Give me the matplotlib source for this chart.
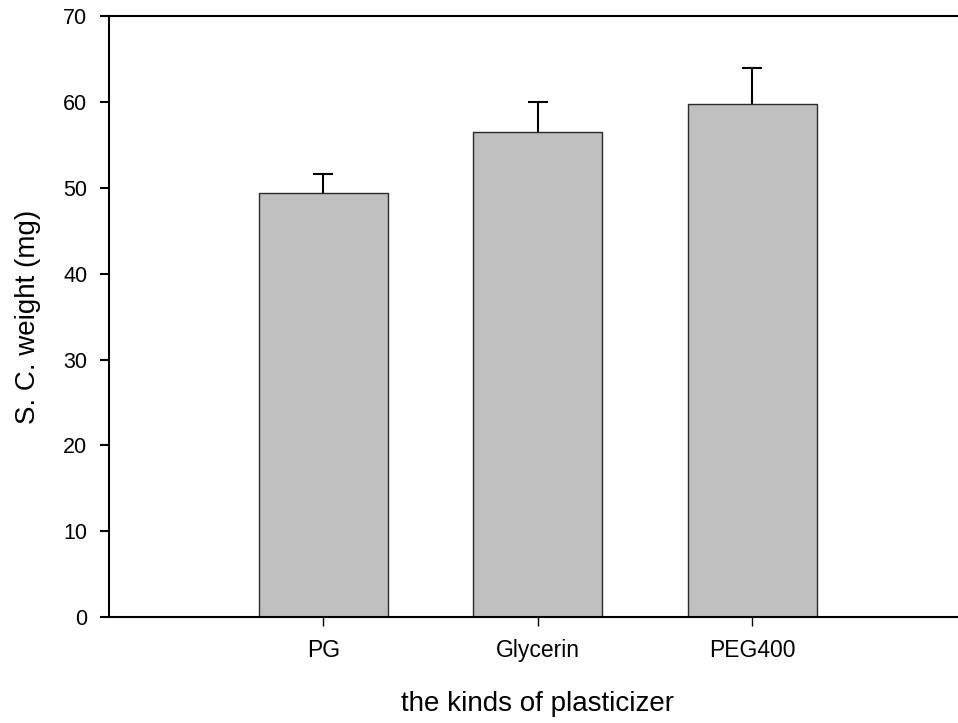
import numpy as np
import matplotlib.pyplot as plt

plt.rcParams['font.family'] = ['Liberation Sans', 'DejaVu Sans']

# S.C. weight by plasticizer (mean, SD)
plasticizers = ["PG", "Glycerin", "PEG400"]
sc_weight = [49.4, 56.5, 59.8]
sc_weight_sd = [2.2, 3.5, 4.2]

fig = plt.figure(figsize=(9.58, 7.23), dpi=100)
ax = fig.add_axes([0.1135, 0.1462, 0.8959, 0.8317])

x = np.arange(1, len(plasticizers) + 1)
# error bars sit behind the bars so only the upper half shows
ax.errorbar(x, sc_weight, yerr=sc_weight_sd, fmt='none',
            ecolor='black', elinewidth=1.5, capsize=7, capthick=1.5, zorder=1)
ax.bar(x, sc_weight, width=0.6, color='#c0c0c0', edgecolor='#2a2a2a',
       linewidth=1.0, zorder=2)

ax.set_xlim(0, 4)
ax.set_ylim(0, 70)
ax.set_xticks(x)
ax.set_xticklabels(plasticizers, fontsize=16.5)
ax.set_yticks(np.arange(0, 71, 10))
ax.tick_params(axis='y', labelsize=15.5, length=6.5, width=1.5, pad=9, direction='out')
ax.tick_params(axis='x', length=6.5, width=1.0, pad=9, direction='out')

for side in ['left', 'bottom', 'top']:
    ax.spines[side].set_linewidth(1.5)
ax.spines['right'].set_visible(False)

ax.set_xlabel("the kinds of plasticizer", fontsize=20, labelpad=21)
ax.set_ylabel("S. C. weight (mg)", fontsize=20, labelpad=16)

fig.savefig("out.png", dpi=100)
